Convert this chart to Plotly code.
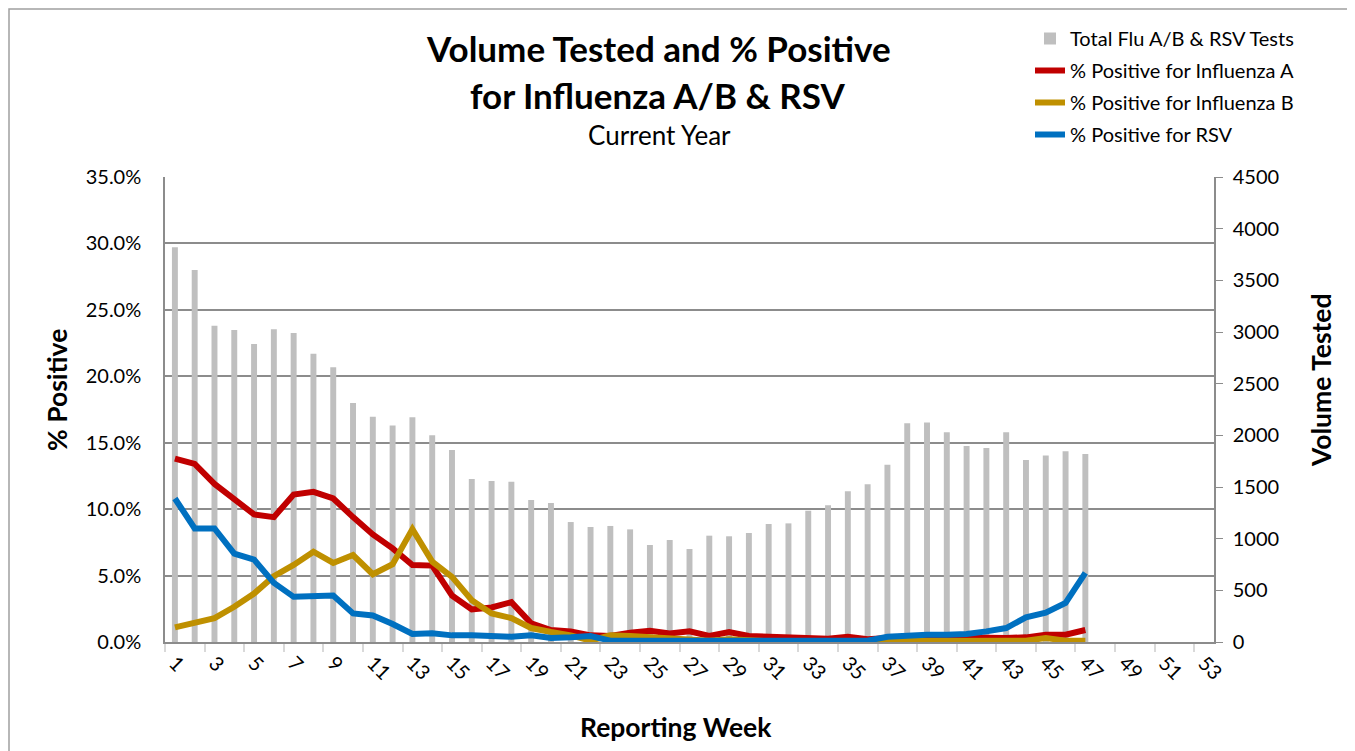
import plotly.graph_objects as go

# ---- data ----
weeks = list(range(1, 48))
all_week_labels = [str(w) for w in range(1, 54, 2)]
all_week_ticks = list(range(1, 54, 2))

total_tests = [3820, 3600, 3061, 3019, 2884, 3026, 2990, 2790, 2658, 2313,
               2181, 2094, 2175, 2000, 1858, 1577, 1558, 1551, 1374, 1345,
               1161, 1113, 1123, 1090, 939, 987, 900, 1029, 1023, 1055,
               1142, 1148, 1271, 1323, 1458, 1526, 1716, 2116, 2123, 2029,
               1897, 1877, 2029, 1761, 1806, 1845, 1819]

flu_a = [13.8, 13.4, 11.9, 10.7, 9.6, 9.4, 11.1, 11.3, 10.8, 9.4,
         8.1, 7.05, 5.8, 5.75, 3.5, 2.45, 2.6, 3.0, 1.4, 0.9,
         0.8, 0.5, 0.45, 0.7, 0.85, 0.65, 0.8, 0.45, 0.75, 0.45,
         0.4, 0.3, 0.35, 0.25, 0.4, 0.2, 0.3, 0.4, 0.4, 0.35,
         0.3, 0.3, 0.3, 0.35, 0.55, 0.55, 0.9]

flu_b = [1.1, 1.4, 1.8, 2.65, 3.65, 4.95, 5.8, 6.8, 5.95, 6.55,
         5.1, 5.85, 8.5, 6.05, 4.9, 3.15, 2.15, 1.8, 1.05, 0.75,
         0.5, 0.1, 0.5, 0.45, 0.35, 0.3, 0.2, 0.1, 0.2, 0.1,
         0.05, 0.05, 0.05, 0.05, 0.05, 0.05, 0.05, 0.1, 0.1, 0.1,
         0.1, 0.1, 0.1, 0.1, 0.3, 0.1, 0.1]

rsv = [10.8, 8.55, 8.55, 6.65, 6.2, 4.45, 3.4, 3.45, 3.5, 2.15,
       2.0, 1.35, 0.6, 0.65, 0.5, 0.5, 0.45, 0.4, 0.5, 0.3,
       0.35, 0.45, 0.1, 0.1, 0.1, 0.05, 0.1, 0.1, 0.1, 0.1,
       0.1, 0.1, 0.1, 0.1, 0.1, 0.1, 0.4, 0.5, 0.55, 0.55,
       0.6, 0.8, 1.05, 1.85, 2.2, 2.95, 5.2]

pct_ticks = [0, 5, 10, 15, 20, 25, 30, 35]
vol_ticks = list(range(0, 4501, 500))

FONT = "Lato"
GRID = "#8c8c8c"
OFF = 8  # page body margin
W, H = 1355 - OFF, 751 - OFF
# plot area in page coordinates: x 165..1214, y 177..642
L = 165 - OFF
T = 177 - OFF
R = W - (1214 - OFF)
B = H - (642 - OFF)
PW, PH = W - L - R, H - T - B


def px_x(x):
    """page x -> paper coordinate"""
    return (x - OFF - L) / PW


def px_y(y):
    """page y -> paper coordinate"""
    return (H - B - (y - OFF)) / PH


fig = go.Figure()

fig.add_trace(go.Bar(
    x=weeks, y=total_tests, name="Total Flu A/B & RSV Tests",
    marker=dict(color="#bfbfbf", line=dict(width=0)),
    yaxis="y", legendgroup="g1",
))
fig.add_trace(go.Scatter(
    x=weeks, y=flu_a, name="% Positive for Influenza A", mode="lines",
    line=dict(color="#c00000", width=6), yaxis="y2", legendgroup="g2",
))
fig.add_trace(go.Scatter(
    x=weeks, y=flu_b, name="% Positive for Influenza B", mode="lines",
    line=dict(color="#bf9000", width=6), yaxis="y2", legendgroup="g3",
))
fig.add_trace(go.Scatter(
    x=weeks, y=rsv, name="% Positive for RSV", mode="lines",
    line=dict(color="#0070c0", width=6), yaxis="y2", legendgroup="g4",
))

fig.update_layout(
    width=W, height=H,
    margin=dict(l=L, r=R, t=T, b=B, autoexpand=False),
    paper_bgcolor="white", plot_bgcolor="white",
    font=dict(family=FONT, color="black", size=18),
    bargap=0.7,
    showlegend=True,
    legend=dict(
        x=px_x(1030), y=px_y(19), xanchor="left", yanchor="top",
        font=dict(size=20, family=FONT), tracegroupgap=3,
        bgcolor="rgba(0,0,0,0)", itemwidth=30,
    ),
    xaxis=dict(
        range=[0.5, 53.5], tickmode="array", tickvals=all_week_ticks,
        ticktext=all_week_labels, tickangle=45, ticks="",
        tickfont=dict(size=20), showgrid=False, zeroline=False,
        showline=True, linecolor=GRID, linewidth=1.5,
        minor=dict(tick0=0.5, dtick=2, ticks="outside", ticklen=8,
                   tickcolor="#d9d9d9", tickwidth=1.5, showgrid=False),
        fixedrange=True,
    ),
    yaxis=dict(
        side="right", range=[0, 4500], tickmode="array", tickvals=vol_ticks,
        ticks="outside", ticklen=7, tickcolor=GRID, tickwidth=1.2,
        showgrid=False, zeroline=False, showline=True, linecolor=GRID,
        linewidth=1.5, tickfont=dict(size=20), ticklabelstandoff=6,
    ),
    yaxis2=dict(
        side="left", overlaying="y", range=[0, 35], tickmode="array",
        tickvals=pct_ticks, ticktext=[f"{v:.1f}%" for v in pct_ticks],
        ticks="", showgrid=True, gridcolor=GRID, gridwidth=1.5,
        zeroline=False, showline=True, linecolor=GRID, linewidth=1.5,
        tickfont=dict(size=20), ticklabelstandoff=18,
    ),
    annotations=[
        dict(text="<b>Volume Tested and % Positive</b>", x=px_x(658), y=px_y(48),
             xref="paper", yref="paper", showarrow=False,
             font=dict(size=35, family=FONT), xanchor="center", yanchor="middle"),
        dict(text="<b>for Influenza A/B & RSV</b>", x=px_x(658), y=px_y(95),
             xref="paper", yref="paper", showarrow=False,
             font=dict(size=35, family=FONT), xanchor="center", yanchor="middle"),
        dict(text="Current Year", x=px_x(659), y=px_y(135),
             xref="paper", yref="paper", showarrow=False,
             font=dict(size=26, family=FONT), xanchor="center", yanchor="middle"),
        dict(text="<b>% Positive</b>", x=px_x(57), y=px_y(390),
             xref="paper", yref="paper", showarrow=False, textangle=-90,
             font=dict(size=26.5, family=FONT), xanchor="center", yanchor="middle"),
        dict(text="<b>Volume Tested</b>", x=px_x(1321), y=px_y(381),
             xref="paper", yref="paper", showarrow=False, textangle=-90,
             font=dict(size=26.5, family=FONT), xanchor="center", yanchor="middle"),
        dict(text="<b>Reporting Week</b>", x=px_x(676), y=px_y(727),
             xref="paper", yref="paper", showarrow=False,
             font=dict(size=26.5, family=FONT), xanchor="center", yanchor="middle"),
    ],
    shapes=[
        dict(type="rect", xref="paper", yref="paper",
             x0=px_x(OFF + 1), x1=px_x(1350), y0=px_y(770), y1=px_y(OFF + 1),
             line=dict(color="#a0a0a0", width=1.5), fillcolor="rgba(0,0,0,0)",
             layer="below"),
    ],
)

fig.write_html("out.html")
